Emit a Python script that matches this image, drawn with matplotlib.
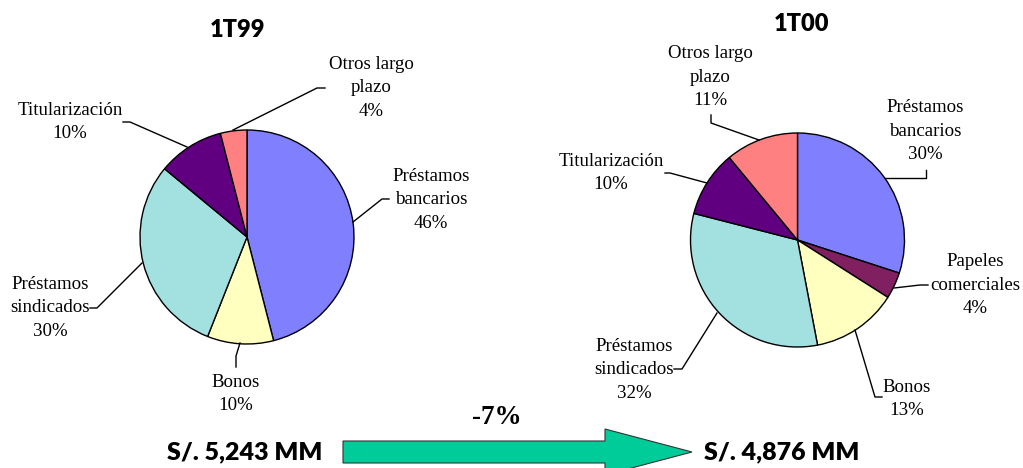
import numpy as np
import matplotlib
matplotlib.use("Agg")
import matplotlib.pyplot as plt
from matplotlib.patches import FancyArrow

# ---- data ----
left_title = "1T99"
left_labels = ["Préstamos\nbancarios", "Bonos", "Préstamos\nsindicados", "Titularización", "Otros largo\nplazo"]
left_values = [46, 10, 30, 10, 4]
left_colors = ["#8080FF", "#FFFFC0", "#A3E0E0", "#600080", "#FF8080"]

right_title = "1T00"
right_labels = ["Préstamos\nbancarios", "Papeles\ncomerciales", "Bonos", "Préstamos\nsindicados", "Titularización", "Otros largo\nplazo"]
right_values = [30, 4, 13, 32, 10, 11]
right_colors = ["#8080FF", "#802060", "#FFFFC0", "#A3E0E0", "#600080", "#FF8080"]

left_total = "S/. 5,243 MM"
right_total = "S/. 4,876 MM"
change = "-7%"

W, H = 1023, 468
fig = plt.figure(figsize=(W / 100, H / 100), dpi=100)
ax = fig.add_axes([0, 0, 1, 1])

def Y(y):
    return H - y

serif = ["Liberation Serif", "DejaVu Serif"]
sans_bold = ["Lato", "DejaVu Sans"]
FS = 13.6

def draw_pie(values, colors, center, radius, labels, label_pos, leaders):
    wedges, _ = ax.pie(values, colors=colors, startangle=90, counterclock=False,
                       center=(center[0], Y(center[1])), radius=radius,
                       wedgeprops=dict(edgecolor="black", linewidth=1.0))
    total = sum(values)
    for lab, v, (tx, ty), pts in zip(labels, values, label_pos, leaders):
        txt = f"{lab}\n{round(100 * v / total)}%"
        ax.text(tx, Y(ty), txt, ha="center", va="center", fontsize=FS,
                family=serif, linespacing=1.47)
        xs = [p[0] for p in pts]
        ys = [Y(p[1]) for p in pts]
        ax.plot(xs, ys, color="black", lw=1.0)

# left pie
draw_pie(left_values, left_colors, (247, 237), 107, left_labels,
         [(431, 200), (236, 394), (50, 308), (70, 122), (371, 88)],
         [[(389, 199), (382, 199), (353, 222)],
          [(236, 367), (236, 356), (240, 343)],
          [(90, 308), (97, 308), (142, 263)],
          [(123, 122), (130, 122), (187, 147)],
          [(233, 130), (317, 88), (325, 88)]])

# right pie
draw_pie(right_values, right_colors, (797.5, 240), 107, right_labels,
         [(925, 131), (975, 285), (907, 399), (634, 370), (611, 173), (710, 77)],
         [[(926, 170), (926, 178), (885, 178)],
          [(928, 285), (920, 285), (894, 288)],
          [(882, 397), (875, 397), (855, 330)],
          [(674, 369), (682, 369), (717, 313)],
          [(665, 173), (670, 173), (707, 183)],
          [(711, 115), (711, 123), (759, 140)]])

ax.text(238, Y(30), left_title, ha="center", va="center", fontsize=17,
        family=sans_bold, fontweight="heavy")
ax.text(802, Y(24), right_title, ha="center", va="center", fontsize=17,
        family=sans_bold, fontweight="heavy")

ax.text(245, Y(452), left_total, ha="center", va="center", fontsize=18,
        family=sans_bold, fontweight="heavy")
ax.text(782, Y(452), right_total, ha="center", va="center", fontsize=18,
        family=sans_bold, fontweight="heavy")
ax.text(497, Y(417), change, ha="center", va="center", fontsize=19.5,
        family=serif, fontweight="bold")

arrow = FancyArrow(343, Y(452), 692 - 343, 0, width=22, head_width=46,
                   head_length=692 - 605, length_includes_head=True,
                   facecolor="#00CC99", edgecolor="#333333", linewidth=0.8)
ax.add_patch(arrow)

ax.set_xlim(0, W)
ax.set_ylim(0, H)
ax.set_aspect("equal")
ax.axis("off")
fig.savefig("out.png", dpi=100)
